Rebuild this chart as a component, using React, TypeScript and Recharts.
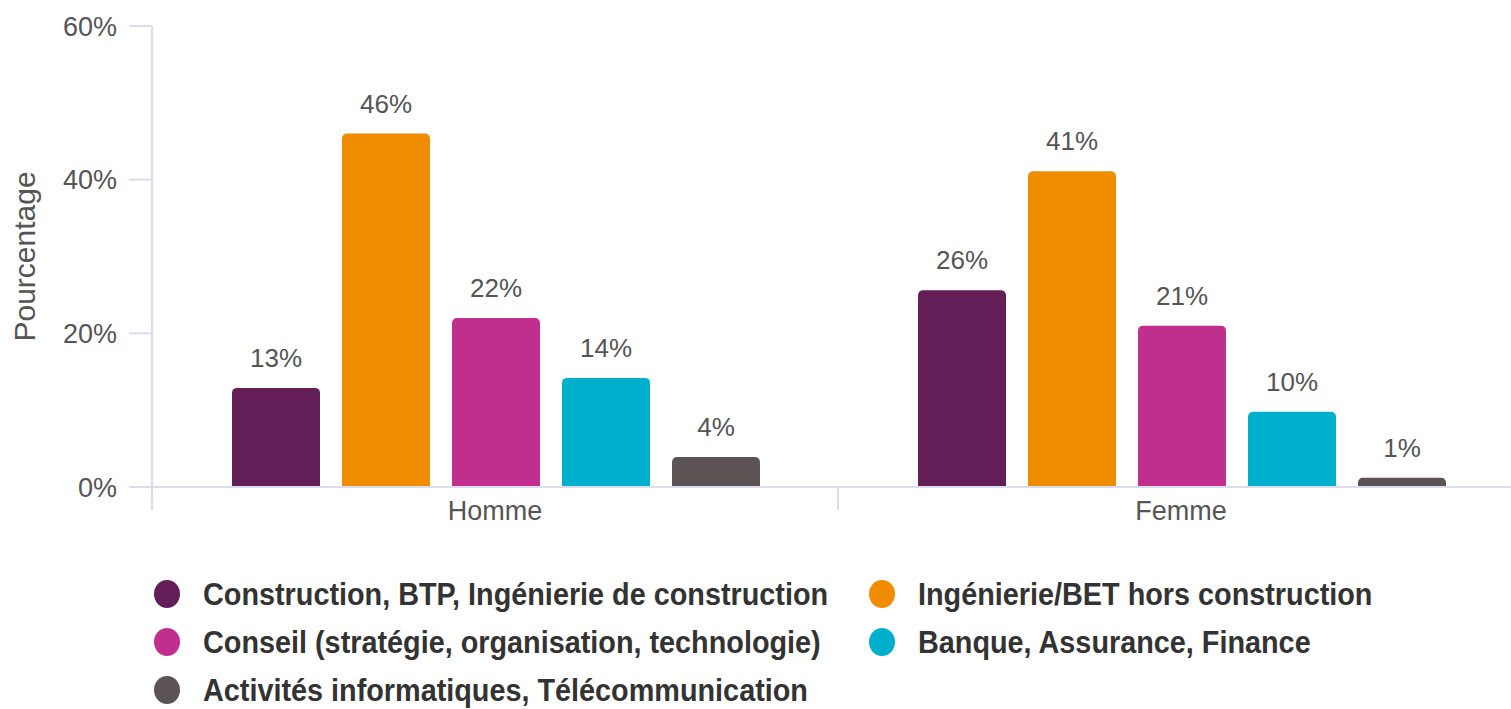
import { BarChart, Bar, XAxis, YAxis, LabelList } from "recharts";

const categories = ["Homme", "Femme"];

const sectors = [
  "Construction, BTP, Ingénierie de construction",
  "Ingénierie/BET hors construction",
  "Conseil (stratégie, organisation, technologie)",
  "Banque, Assurance, Finance",
  "Activités informatiques, Télécommunication",
];

const colors = ["#631e57", "#f08c00", "#c02f8d", "#00afcb", "#5b5354"];

// one array per sector: [Homme, Femme]
const construction = [12.9, 25.6];
const ingenierie = [46, 41.1];
const conseil = [22, 21];
const banque = [14.2, 9.8];
const informatique = [3.9, 1.2];

const yTicks = [0, 20, 40, 60];

const series = [construction, ingenierie, conseil, banque, informatique];

const data = categories.map((cat, i) => {
  const row: Record<string, string | number> = { name: cat };
  series.forEach((s, k) => {
    row["s" + k] = s[i];
  });
  return row;
});

const FONT = "'Liberation Sans', Arial, sans-serif";
const AXIS = "#d9ddee";
const TEXT = "#555555";

const CHART_W = 1540;
const Y_W = 152;
const RIGHT = 16;
const HALF_BAND = (CHART_W - Y_W - RIGHT) / categories.length / 2;

function CategoryTick(props: any) {
  const { x, y, payload } = props;
  return (
    <g>
      <line x1={x - HALF_BAND} x2={x - HALF_BAND} y1={y} y2={y + 23} stroke={AXIS} strokeWidth={2} />
      <text x={x} y={y + 33} textAnchor="middle" fill={TEXT} fontSize={27} fontFamily={FONT}>
        {payload.value}
      </text>
    </g>
  );
}

export default function App() {
  return (
    <div
      style={{
        position: "absolute",
        left: 0,
        top: 0,
        width: 1511,
        height: 709,
        overflow: "hidden",
        background: "#fff",
        fontFamily: FONT,
      }}
    >
      <BarChart
        width={CHART_W}
        height={540}
        data={data}
        margin={{ top: 26, right: RIGHT, bottom: 0, left: 0 }}
        barCategoryGap={80}
        barGap={22}
      >
        <XAxis
          dataKey="name"
          height={53}
          tickSize={0}
          tickMargin={0}
          axisLine={{ stroke: AXIS, strokeWidth: 2 }}
          tick={<CategoryTick />}
          interval={0}
        />
        <YAxis
          width={Y_W}
          domain={[0, 60]}
          ticks={yTicks}
          tickFormatter={(v: number) => `${v}%`}
          tickSize={23}
          tickMargin={12}
          tickLine={{ stroke: AXIS, strokeWidth: 2 }}
          axisLine={{ stroke: AXIS, strokeWidth: 2 }}
          tick={{ fill: TEXT, fontSize: 27, fontFamily: FONT }}
          label={{
            value: "Pourcentage",
            angle: -90,
            position: "insideLeft",
            offset: 24,
            style: { textAnchor: "middle", fill: TEXT, fontSize: 30, fontFamily: FONT },
          }}
        />
        {series.map((_, k) => (
          <Bar
            key={k}
            dataKey={"s" + k}
            name={sectors[k]}
            fill={colors[k]}
            radius={[5, 5, 0, 0]}
            isAnimationActive={false}
          >
            <LabelList
              dataKey={"s" + k}
              position="top"
              offset={21}
              formatter={(v: any) => `${Math.round(Number(v))}%`}
              fill={TEXT}
              fontSize={26}
              fontFamily={FONT}
            />
          </Bar>
        ))}
      </BarChart>

      <div
        style={{
          position: "absolute",
          left: 154,
          top: 570,
          display: "grid",
          gridTemplateColumns: "715px auto",
          gridAutoRows: "48px",
        }}
      >
        {sectors.map((s, k) => (
          <div key={s} style={{ display: "flex", alignItems: "center", height: 48 }}>
            <span
              style={{
                width: 26,
                height: 28,
                borderRadius: "50%",
                background: colors[k],
                display: "inline-block",
                flex: "none",
              }}
            />
            <span
              style={{
                marginLeft: 23,
                display: "inline-block",
                fontWeight: 700,
                fontSize: 32,
                lineHeight: 1,
                color: "#333",
                whiteSpace: "nowrap",
                transform: "scaleX(0.9)",
                transformOrigin: "left center",
              }}
            >
              {s}
            </span>
          </div>
        ))}
      </div>
    </div>
  );
}
